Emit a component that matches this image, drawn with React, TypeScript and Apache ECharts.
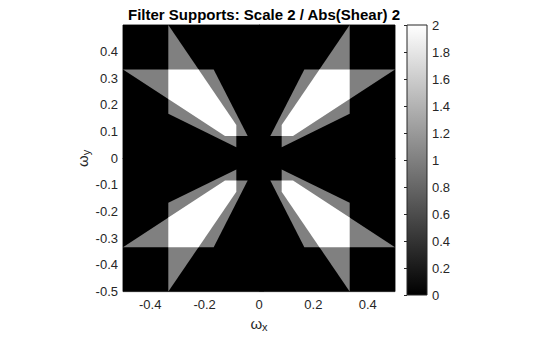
import React, { useEffect, useRef } from "react";
import * as echarts from "echarts";

// Tick labels
const xTicks = [-0.4, -0.2, 0, 0.2, 0.4];
const yTicks = [-0.5, -0.4, -0.3, -0.2, -0.1, 0, 0.1, 0.2, 0.3, 0.4];
const cbTicks = [0, 0.2, 0.4, 0.6, 0.8, 1, 1.2, 1.4, 1.6, 1.8, 2];

// Region values (0 background, 1 single support, 2 overlap)
const regionValues = [0, 1, 1, 1, 1, 1, 1, 1, 1, 2, 2, 2, 2];

// Region vertices in (ωx, ωy) data units
const regionVertices: number[][][] = [
  // background
  [[-0.5, -0.5], [0.5, -0.5], [0.5, 0.5], [-0.5, 0.5]],
  // upper-left, steep support
  [[-1 / 3, 0.5], [-1 / 12, 1 / 8], [-1 / 12, 1 / 24], [-1 / 3, 1 / 6]],
  // upper-left, flat support
  [[-0.5, 1 / 3], [-1 / 6, 1 / 3], [-1 / 24, 1 / 12], [-1 / 8, 1 / 12]],
  // upper-right
  [[1 / 3, 0.5], [1 / 12, 1 / 8], [1 / 12, 1 / 24], [1 / 3, 1 / 6]],
  [[0.5, 1 / 3], [1 / 6, 1 / 3], [1 / 24, 1 / 12], [1 / 8, 1 / 12]],
  // lower-left
  [[-1 / 3, -0.5], [-1 / 12, -1 / 8], [-1 / 12, -1 / 24], [-1 / 3, -1 / 6]],
  [[-0.5, -1 / 3], [-1 / 6, -1 / 3], [-1 / 24, -1 / 12], [-1 / 8, -1 / 12]],
  // lower-right
  [[1 / 3, -0.5], [1 / 12, -1 / 8], [1 / 12, -1 / 24], [1 / 3, -1 / 6]],
  [[0.5, -1 / 3], [1 / 6, -1 / 3], [1 / 24, -1 / 12], [1 / 8, -1 / 12]],
  // overlaps
  [[-1 / 3, 1 / 3], [-2 / 9, 1 / 3], [-1 / 12, 1 / 8], [-1 / 12, 1 / 12], [-1 / 8, 1 / 12], [-1 / 3, 2 / 9]],
  [[1 / 3, 1 / 3], [2 / 9, 1 / 3], [1 / 12, 1 / 8], [1 / 12, 1 / 12], [1 / 8, 1 / 12], [1 / 3, 2 / 9]],
  [[-1 / 3, -1 / 3], [-2 / 9, -1 / 3], [-1 / 12, -1 / 8], [-1 / 12, -1 / 12], [-1 / 8, -1 / 12], [-1 / 3, -2 / 9]],
  [[1 / 3, -1 / 3], [2 / 9, -1 / 3], [1 / 12, -1 / 8], [1 / 12, -1 / 12], [1 / 8, -1 / 12], [1 / 3, -2 / 9]],
];

const cMin = 0;
const cMax = 2;

function grayOf(v: number): string {
  const t = Math.max(0, Math.min(1, (v - cMin) / (cMax - cMin)));
  const g = Math.round(t * 255);
  return `rgb(${g},${g},${g})`;
}

const FONT = "Liberation Sans, Arial, sans-serif";
const AX = "#262626";

export default function App() {
  const ref = useRef<HTMLDivElement>(null);
  useEffect(() => {
    if (!ref.current) return;
    const chart = echarts.init(ref.current, null, { renderer: "svg" });
    const option: any = {
      animation: false,
      backgroundColor: "#fff",
      title: {
        text: "Filter Supports: Scale 2 / Abs(Shear) 2",
        left: 259,
        textAlign: "center",
        top: 2,
        textStyle: { fontFamily: FONT, fontSize: 15, fontWeight: "bold", color: "#000" },
      },
      grid: [
        { left: 123, top: 25, width: 272, height: 271, show: true, borderColor: AX, borderWidth: 1, backgroundColor: "transparent" },
        { left: 407, top: 25, width: 20, height: 270 },
      ],
      xAxis: [
        {
          gridIndex: 0,
          type: "value",
          min: -0.5,
          max: 0.5,
          name: "{w|ω}{s|x}",
          nameLocation: "middle",
          nameGap: 20,
          nameTextStyle: {
            rich: {
              w: { fontFamily: FONT, fontSize: 15, color: AX },
              s: { fontFamily: FONT, fontSize: 11, color: AX, padding: [7, 0, 0, 0] },
            },
          },
          axisLine: { show: true, lineStyle: { color: AX } },
          axisTick: { show: true, inside: true, customValues: xTicks, lineStyle: { color: AX } },
          axisLabel: { customValues: xTicks, color: AX, fontFamily: FONT, fontSize: 13, margin: 6 },
          splitLine: { show: false },
        },
        { gridIndex: 1, type: "value", min: 0, max: 1, show: false },
      ],
      yAxis: [
        {
          gridIndex: 0,
          type: "value",
          min: -0.5,
          max: 0.5,
          name: "{w|ω}{s|y}",
          nameLocation: "middle",
          nameRotate: 90,
          nameGap: 31,
          nameTextStyle: {
            rich: {
              w: { fontFamily: FONT, fontSize: 15, color: AX },
              s: { fontFamily: FONT, fontSize: 11, color: AX, padding: [7, 0, 0, 0] },
            },
          },
          axisLine: { show: true, lineStyle: { color: AX } },
          axisTick: { show: true, inside: true, customValues: yTicks, lineStyle: { color: AX } },
          axisLabel: { customValues: yTicks, color: AX, fontFamily: FONT, fontSize: 13, margin: 5 },
          splitLine: { show: false },
        },
        {
          gridIndex: 1,
          type: "value",
          min: cMin,
          max: cMax,
          position: "right",
          axisLine: { show: false },
          axisTick: { show: true, inside: true, length: 3, customValues: cbTicks, lineStyle: { color: AX } },
          axisLabel: { customValues: cbTicks, color: AX, fontFamily: FONT, fontSize: 13, margin: 5 },
          splitLine: { show: false },
        },
      ],
      series: [
        {
          type: "custom",
          xAxisIndex: 0,
          yAxisIndex: 0,
          clip: true,
          encode: { x: 0, y: 1 },
          data: regionVertices.map((pts, i) => [pts[0][0], pts[0][1], regionValues[i], i]),
          renderItem: (params: any, api: any) => {
            const i = params.dataIndex;
            const points = regionVertices[i].map((p) => api.coord(p));
            return {
              type: "polygon",
              shape: { points },
              style: { fill: grayOf(regionValues[i]), stroke: null },
              z2: regionValues[i],
            };
          },
          z: 1,
        },
        {
          type: "custom",
          xAxisIndex: 1,
          yAxisIndex: 1,
          encode: { x: 0, y: 1 },
          data: [[0, cMin]],
          renderItem: (params: any, api: any) => {
            const p0 = api.coord([0, cMax]);
            const p1 = api.coord([1, cMin]);
            return {
              type: "rect",
              shape: { x: p0[0], y: p0[1], width: p1[0] - p0[0], height: p1[1] - p0[1] },
              style: {
                fill: new echarts.graphic.LinearGradient(0, 0, 0, 1, [
                  { offset: 0, color: grayOf(cMax) },
                  { offset: 1, color: grayOf(cMin) },
                ]),
                stroke: AX,
                lineWidth: 1,
              },
            };
          },
          z: 1,
        },
      ],
    };
    chart.setOption(option);
    return () => chart.dispose();
  }, []);
  return (
    <div
      ref={ref}
      style={{ position: "fixed", left: 0, top: 0, width: 560, height: 337 }}
    />
  );
}
